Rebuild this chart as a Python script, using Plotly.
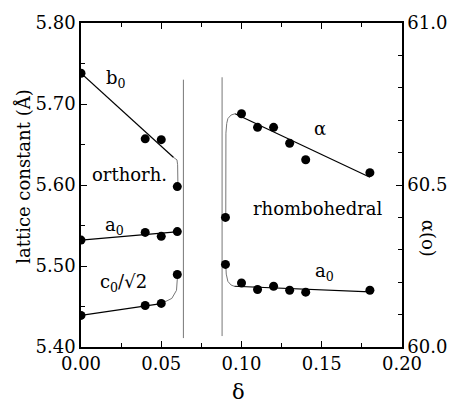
import plotly.graph_objects as go

# ---- measured lattice parameters (orthorhombic phase, left axis, Å) ----
delta_ortho = [0.00, 0.04, 0.05, 0.06]
b0_ortho = [5.738, 5.657, 5.656, 5.598]
a0_ortho = [5.532, 5.5415, 5.5366, 5.5425]
c0_ortho = [5.439, 5.4513, 5.4538, 5.4895]

# ---- rhombohedral phase ----
delta_rhomb = [0.09, 0.10, 0.11, 0.12, 0.13, 0.14, 0.18]
a0_rhomb = [5.502, 5.479, 5.471, 5.475, 5.470, 5.4677, 5.470]
alpha_rhomb = [60.40, 60.72, 60.678, 60.678, 60.629, 60.578, 60.538]  # degrees, right axis

# ---- guide-to-the-eye lines: straight fits ----
b0_fit_x, b0_fit_y = [0.0, 0.0577], [5.738, 5.634]
a0o_fit_x, a0o_fit_y = [0.0, 0.061], [5.532, 5.5425]
c0_fit_x, c0_fit_y = [0.0, 0.05], [5.439, 5.4535]
a0r_fit_x, a0r_fit_y = [0.0955, 0.18], [5.475, 5.468]
al_fit_x, al_fit_y = [0.096, 0.18], [60.72, 60.524]

# ---- transition segments near the phase boundaries ----
b0_tr_x, b0_tr_y = [0.0577, 0.0598, 0.0602, 0.0604], [5.634, 5.631, 5.625, 5.598]
c0_tr_x, c0_tr_y = [0.05, 0.0566, 0.0595, 0.0600, 0.0602], [5.4535, 5.460, 5.470, 5.480, 5.4895]
a0r_tr_x, a0r_tr_y = [0.0902, 0.0905, 0.0915, 0.0935, 0.0955], [5.502, 5.490, 5.481, 5.4765, 5.475]
al_tr_x, al_tr_y = [0.0902, 0.0903, 0.0908, 0.0915, 0.0935, 0.096], [60.40, 60.66, 60.69, 60.705, 60.716, 60.72]

# ---- phase-boundary markers ----
bound1_x, bound1_y = [0.0638, 0.0638], [5.411, 5.730]
bound2_x, bound2_y = [0.0879, 0.0879], [5.4135, 5.733]

FONT = "DejaVu Serif"
BLACK = "black"
GREY = "#777777"

fig = go.Figure()


def line(x, y, color=BLACK, width=1.2, yaxis="y"):
    fig.add_trace(go.Scatter(x=x, y=y, mode="lines", yaxis=yaxis,
                             line=dict(color=color, width=width),
                             showlegend=False, hoverinfo="skip"))


def dots(x, y, yaxis="y"):
    fig.add_trace(go.Scatter(x=x, y=y, mode="markers", yaxis=yaxis,
                             marker=dict(color=BLACK, size=9),
                             showlegend=False))


# phase boundaries
line(bound1_x, bound1_y, color=GREY, width=1)
line(bound2_x, bound2_y, color=GREY, width=1)

# fits
line(b0_fit_x, b0_fit_y)
line(a0o_fit_x, a0o_fit_y)
line(c0_fit_x, c0_fit_y)
line(a0r_fit_x, a0r_fit_y)
line(al_fit_x, al_fit_y, yaxis="y2")

# transitions
line(b0_tr_x, b0_tr_y, color=GREY, width=1)
line(c0_tr_x, c0_tr_y, color=GREY, width=1)
line(a0r_tr_x, a0r_tr_y, color=GREY, width=1)
line(al_tr_x, al_tr_y, color=GREY, width=1, yaxis="y2")

# data points
dots(delta_ortho, b0_ortho)
dots(delta_ortho, a0_ortho)
dots(delta_ortho, c0_ortho)
dots(delta_rhomb, a0_rhomb)
dots(delta_rhomb, alpha_rhomb, yaxis="y2")

labels = [
    (0.022, 5.731, "b<sub>0</sub>"),
    (0.030, 5.613, "orthorh."),
    (0.0208, 5.549, "a<sub>0</sub>"),
    (0.0263, 5.479, "c<sub>0</sub>/√2"),
    (0.1486, 5.670, "α"),
    (0.1474, 5.571, "rhombohedral"),
    (0.152, 5.493, "a<sub>0</sub>"),
]
for x, y, t in labels:
    fig.add_annotation(x=x, y=y, xref="x", yref="y", text=t, showarrow=False,
                       xanchor="center", yanchor="middle",
                       font=dict(family=FONT, size=18, color=BLACK))

# axis titles
titles = [
    (-0.180, 0.526, "lattice constant (Å)", -90, 18),
    (1.083, 0.335, "α(o)", 90, 18),
    (0.49, -0.138, "δ", 0, 21),
]
for x, y, t, ang, sz in titles:
    fig.add_annotation(x=x, y=y, xref="paper", yref="paper", text=t,
                       textangle=ang, showarrow=False,
                       xanchor="center", yanchor="middle",
                       font=dict(family=FONT, size=sz, color=BLACK))

tickfont = dict(family=FONT, size=18, color=BLACK)
common = dict(showgrid=False, zeroline=False,
              showline=True, linecolor=BLACK, linewidth=1.5,
              ticks="inside", ticklen=6, tickwidth=1, tickcolor=BLACK,
              tickfont=tickfont)
fig.update_layout(
    width=459, height=409,
    margin=dict(l=81, r=51, t=22, b=62),
    paper_bgcolor="white", plot_bgcolor="white",
    showlegend=False,
    font=dict(family=FONT, color=BLACK),
    xaxis=dict(range=[0, 0.2], dtick=0.05, tickformat=".2f", mirror="ticks",
               minor=dict(dtick=0.025, ticks="inside", ticklen=4, tickcolor=BLACK, showgrid=False),
               **common),
    yaxis=dict(range=[5.40, 5.80], dtick=0.1, tickformat=".2f",
               minor=dict(dtick=0.05, ticks="inside", ticklen=4, tickcolor=BLACK, showgrid=False),
               **common),
    yaxis2=dict(range=[60.0, 61.0], dtick=0.5, tickformat=".1f",
                overlaying="y", side="right",
                minor=dict(dtick=0.1, ticks="inside", ticklen=4, tickcolor=BLACK, showgrid=False),
                **common),
)

fig.write_html("out.html")
